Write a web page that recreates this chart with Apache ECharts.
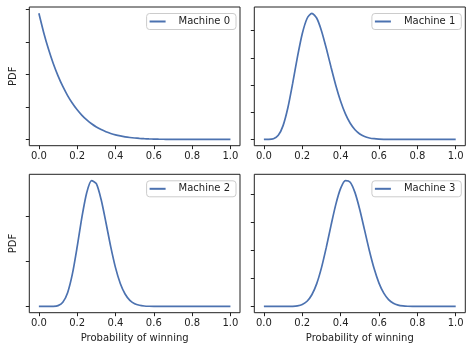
<!DOCTYPE html>
<html>
<head>
<meta charset="utf-8">
<script src="https://cdn.jsdelivr.net/npm/echarts@6/dist/echarts.min.js"></script>
<style>html,body{margin:0;padding:0;background:#fff}#c{width:472px;height:352px}</style>
</head>
<body>
<div id="c"></div>
<script>
// x samples (probability of winning)
var xs = [0,0.025,0.05,0.075,0.1,0.125,0.15,0.175,0.2,0.225,0.25,0.275,0.3,0.325,0.35,0.375,0.4,0.425,0.45,0.475,0.5,0.525,0.55,0.575,0.6,0.625,0.65,0.675,0.7,0.725,0.75,0.775,0.8,0.825,0.85,0.875,0.9,0.925,0.95,0.975,1.0];
var machine0 = [7.76,6.583,5.560,4.675,3.913,3.258,2.698,2.222,1.820,1.480,1.196,0.960,0.764,0.603,0.472,0.366,0.280,0.213,0.159,0.118,0.086,0.061,0.043,0.030,0.020,0.013,0.008,0.005,0.003,0.002,0.001,0.0005,0,0,0,0,0,0,0,0,0];
var machine1 = [0,0.0005,0.021,0.148,0.506,1.163,2.060,3.036,3.887,4.449,4.64,4.466,4.002,3.362,2.658,1.985,1.403,0.938,0.594,0.356,0.201,0.107,0.053,0.025,0.011,0.004,0.0016,0.0005,0,0,0,0,0,0,0,0,0,0,0,0,0];
var machine2 = [0,0,0.0001,0.003,0.035,0.186,0.612,1.446,2.657,3.987,5.069,5.601,5.461,4.757,3.737,2.661,1.726,1.021,0.552,0.272,0.122,0.050,0.018,0.006,0.0016,0,0,0,0,0,0,0,0,0,0,0,0,0,0,0,0];
var machine3 = [0,0,0,0,0.0001,0.0007,0.0046,0.020,0.068,0.184,0.415,0.805,1.375,2.097,2.893,3.642,4.210,4.490,4.434,4.060,3.451,2.721,1.987,1.340,0.832,0.472,0.243,0.113,0.046,0.017,0.005,0.0013,0.0003,0,0,0,0,0,0,0,0];
var names = ['Machine 0','Machine 1','Machine 2','Machine 3'];
var xTicks = [0,0.2,0.4,0.6,0.8,1.0];
var yTicks = [[0,2,4,6,8],[0,1,2,3,4],[0,2,4],[0,1,2,3,4]];

var series = [machine0, machine1, machine2, machine3];
var grids = [
  {left:29.3, top:7, width:210.7, height:138.7},
  {left:254.3, top:7, width:211, height:138.7},
  {left:29.3, top:174.3, width:210.7, height:138.4},
  {left:254.3, top:174.3, width:211, height:138.4}
];
var ink = '#222222';
var font = 'DejaVu Sans';
var option = {animation:false, grid:[], xAxis:[], yAxis:[], series:[], legend:[]};
grids.forEach(function(g, i){
  option.grid.push({left:g.left, top:g.top, width:g.width, height:g.height, show:true, borderColor:ink, borderWidth:1, backgroundColor:'#fff', containLabel:false});
  var bottomRow = i >= 2;
  option.xAxis.push({
    type:'value', gridIndex:i, min:-0.05, max:1.05, position:'bottom',
    name: bottomRow ? 'Probability of winning' : '',
    nameLocation:'middle', nameGap:21,
    nameTextStyle:{fontFamily:font, fontSize:10, color:ink},
    axisLine:{show:false, onZero:false},
    axisTick:{show:true, length:3.5, inside:false, customValues:xTicks, lineStyle:{color:ink, width:1}},
    axisLabel:{show:true, customValues:xTicks, margin:6, fontFamily:font, fontSize:10, color:ink, formatter:function(v){return v.toFixed(1);}},
    splitLine:{show:false}
  });
  var d = series[i];
  var peak = Math.max.apply(null, d);
  var lo = Math.min.apply(null, d);
  var rng = peak - lo;
  option.yAxis.push({
    type:'value', gridIndex:i, min:lo-0.05*rng, max:peak+0.05*rng, position:'left',
    name: (i % 2 === 0) ? 'PDF' : '',
    nameLocation:'middle', nameGap:11,
    nameTextStyle:{fontFamily:font, fontSize:10, color:ink},
    axisLine:{show:false, onZero:false},
    axisTick:{show:true, length:3.5, inside:false, customValues:yTicks[i], lineStyle:{color:ink, width:1}},
    axisLabel:{show:false, customValues:yTicks[i]},
    splitLine:{show:false}
  });
  option.series.push({
    type:'line', name:names[i], xAxisIndex:i, yAxisIndex:i,
    data: xs.map(function(x, k){return [x, d[k]];}),
    symbol:'none', smooth:0.25, clip:true,
    lineStyle:{color:'#4C72B0', width:1.7}, itemStyle:{color:'#4C72B0'}
  });
  option.legend.push({
    data:[names[i]],
    right: 472 - (g.left + g.width) + 4,
    top: g.top + 6.5,
    orient:'vertical',
    icon:'rect', itemWidth:16, itemHeight:2,
    padding:[3,6,3,3],
    backgroundColor:'rgba(255,255,255,0.8)',
    borderColor:'#cccccc', borderWidth:1, borderRadius:3,
    textStyle:{fontFamily:font, fontSize:10, color:ink, padding:[0,0,0,8]},
    selectedMode:false
  });
});
var chart = echarts.init(document.getElementById('c'), null, {renderer:'canvas'});
chart.setOption(option);
</script>
</body>
</html>
